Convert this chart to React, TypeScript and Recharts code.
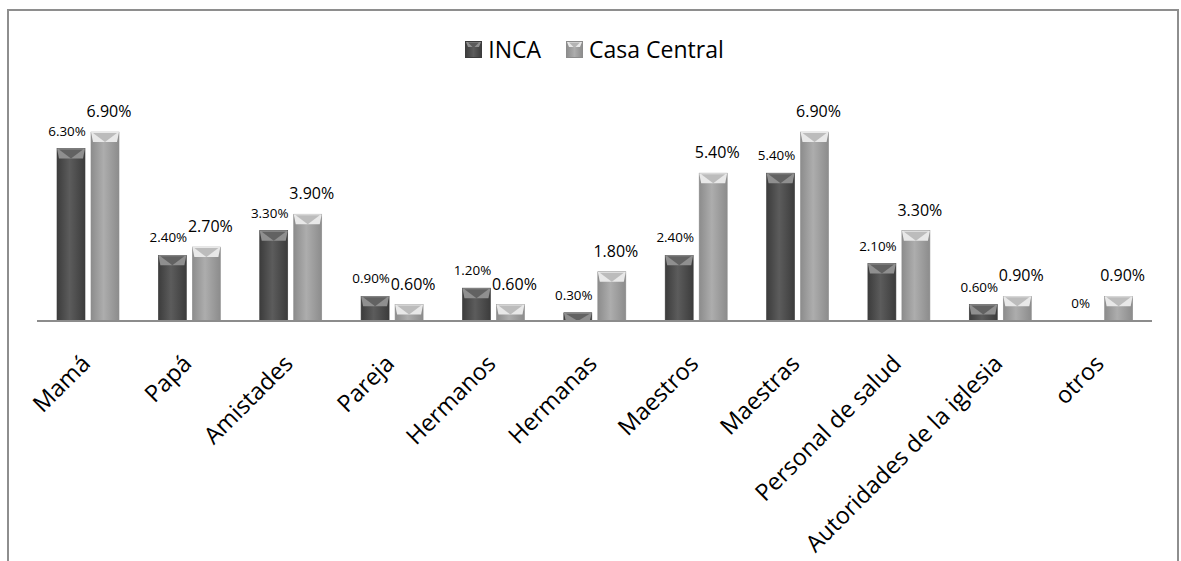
import React from 'react';
import { BarChart, Bar, XAxis, YAxis, Legend, LabelList } from 'recharts';

const categories = ['Mamá', 'Papá', 'Amistades', 'Pareja', 'Hermanos', 'Hermanas', 'Maestros', 'Maestras', 'Personal de salud', 'Autoridades de la iglesia', 'otros'];
const inca = [6.3, 2.4, 3.3, 0.9, 1.2, 0.3, 2.4, 5.4, 2.1, 0.6, 0];
const casaCentral = [6.9, 2.7, 3.9, 0.6, 0.6, 1.8, 5.4, 6.9, 3.3, 0.9, 0.9];

const data = categories.map((name, i) => ({ name, inca: inca[i], casa: casaCentral[i] }));

const FONT = '"Open Sans", Lato, sans-serif';

const palette: { [k: string]: { edge: string; mid: string; top: string; tri: string } } = {
  inca: { edge: '#3c3c3c', mid: '#5c5c5c', top: '#8f8f8f', tri: '#5a5a5a' },
  casa: { edge: '#8c8c8c', mid: '#adadad', top: '#e8e8e8', tri: '#b4b4b4' },
};

const fmt = (v: any) => (Number(v) === 0 ? '0%' : `${Number(v).toFixed(2)}%`);

// bar with the old office "angle" bevel on top
const BevelBar = (key: string) => (props: any) => {
  const { x, y, width, height } = props;
  if (!height || height <= 0) return null;
  const c = palette[key];
  const b = Math.min(10, height);
  const cx = x + width / 2;
  return (
    <g>
      <rect x={x} y={y} width={width} height={height} fill={`url(#grad-${key})`} stroke={c.edge} strokeWidth={0.6} />
      <polygon points={`${x},${y} ${x + width},${y} ${x + width - 2},${y + b} ${x + 2},${y + b}`} fill={c.top} />
      <polygon points={`${x + 2},${y + 1} ${x + width - 2},${y + 1} ${cx},${y + b}`} fill={c.tri} opacity={0.85} />
    </g>
  );
};

const valueLabel = (fontSize: number, offset: number, dx: number) => (p: any) => {
  const { x, y, width, value } = p;
  return (
    <text x={Number(x) + Number(width) / 2 + dx} y={Number(y) - offset} textAnchor="middle" fontSize={fontSize} fontFamily={FONT} fill="#000">
      {fmt(value)}
    </text>
  );
};

const AxisTick = ({ x, y, payload }: any) => {
  const tx = x + 4;
  const ty = y + 44;
  return (
    <text x={tx} y={ty} transform={`rotate(-45 ${tx} ${ty})`} textAnchor="end" fontSize={23.5} fontFamily={FONT} fill="#000">
      {payload.value}
    </text>
  );
};

const LegendMarker = ({ k }: { k: string }) => {
  const c = palette[k];
  return (
    <svg width={17} height={17} style={{ display: 'block' }}>
      <defs>
        <linearGradient id={`lg-${k}`} x1="0" y1="0" x2="1" y2="0">
          <stop offset="0%" stopColor={c.edge} />
          <stop offset="50%" stopColor={c.mid} />
          <stop offset="100%" stopColor={c.edge} />
        </linearGradient>
      </defs>
      <rect x={0.5} y={0.5} width={16} height={16} fill={`url(#lg-${k})`} stroke={c.edge} />
      <polygon points="1,1 16,1 14,6 3,6" fill={c.top} />
      <polygon points="3,1.5 14,1.5 8.5,7" fill={c.tri} />
    </svg>
  );
};

const LegendContent = () => (
  <div style={{ display: 'flex', justifyContent: 'center', alignItems: 'center', fontFamily: FONT, fontSize: 23, color: '#000' }}>
    <div style={{ display: 'flex', alignItems: 'center', marginLeft: 8 }}>
      <LegendMarker k="inca" />
      <span style={{ marginLeft: 6 }}>INCA</span>
    </div>
    <div style={{ display: 'flex', alignItems: 'center', marginLeft: 25 }}>
      <LegendMarker k="casa" />
      <span style={{ marginLeft: 6 }}>Casa Central</span>
    </div>
  </div>
);

export default function App() {
  return (
    <div style={{ position: 'absolute', left: 0, top: 0, width: 1181, height: 561, background: '#fff', overflow: 'hidden' }}>
      <div style={{ position: 'absolute', left: 7, top: 9, width: 1172, height: 570, border: '2px solid #8e8e8e', boxSizing: 'border-box' }} />
      <BarChart
        width={1181}
        height={561}
        data={data}
        margin={{ top: 102, right: 29, bottom: 40, left: 37 }}
        barSize={28}
        barGap={6}
        style={{ position: 'absolute', left: 0, top: 0 }}
      >
        <defs>
          {Object.keys(palette).map((k) => (
            <linearGradient key={k} id={`grad-${k}`} x1="0" y1="0" x2="1" y2="0">
              <stop offset="0%" stopColor={palette[k].edge} />
              <stop offset="45%" stopColor={palette[k].mid} />
              <stop offset="100%" stopColor={palette[k].edge} />
            </linearGradient>
          ))}
        </defs>
        <XAxis
          dataKey="name"
          height={200}
          interval={0}
          tickLine={false}
          tickSize={0}
          tickMargin={0}
          axisLine={{ stroke: '#8c8c8c', strokeWidth: 2 }}
          tick={<AxisTick />}
        />
        <YAxis hide domain={[0, 8]} />
        <Legend verticalAlign="middle" align="center" content={<LegendContent />} wrapperStyle={{ top: 33, left: 0, width: 1181 }} />
        <Bar dataKey="inca" name="INCA" shape={BevelBar('inca')} isAnimationActive={false}>
          <LabelList dataKey="inca" content={valueLabel(13.4, 13, -4)} />
        </Bar>
        <Bar dataKey="casa" name="Casa Central" shape={BevelBar('casa')} isAnimationActive={false}>
          <LabelList dataKey="casa" content={valueLabel(16, 15, 4)} />
        </Bar>
      </BarChart>
    </div>
  );
}
